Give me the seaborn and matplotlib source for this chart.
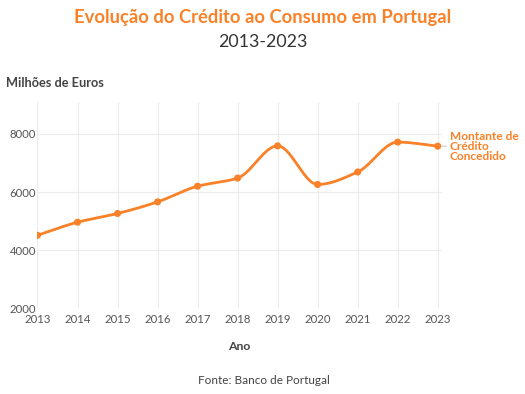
import numpy as np
import pandas as pd
import matplotlib
matplotlib.use("Agg")
import matplotlib.pyplot as plt
import seaborn as sns

# Data
anos = [2013, 2014, 2015, 2016, 2017, 2018, 2019, 2020, 2021, 2022, 2023]
montante = [4510, 4960, 5260, 5660, 6200, 6480, 7590, 6260, 6690, 7720, 7580]
y_ticks = [2000, 4000, 6000, 8000]
serie_label = "Montante de\nCrédito\nConcedido"

ORANGE = "#F98128"
GRID = "#ECECEC"


def monotone_curve(x, y, n=40):
    # Fritsch-Carlson monotone cubic, only used to draw the smooth line
    x = np.asarray(x, float)
    y = np.asarray(y, float)
    h = np.diff(x)
    d = np.diff(y) / h
    m = np.zeros_like(y)
    m[0], m[-1] = d[0], d[-1]
    for i in range(1, len(y) - 1):
        if d[i - 1] * d[i] > 0:
            w1 = 2 * h[i] + h[i - 1]
            w2 = h[i] + 2 * h[i - 1]
            m[i] = (w1 + w2) / (w1 / d[i - 1] + w2 / d[i])
    xs, ys = [], []
    for i in range(len(x) - 1):
        t = np.linspace(0, 1, n, endpoint=(i == len(x) - 2))
        h00 = 2 * t**3 - 3 * t**2 + 1
        h10 = t**3 - 2 * t**2 + t
        h01 = -2 * t**3 + 3 * t**2
        h11 = t**3 - t**2
        xs.append(x[i] + t * h[i])
        ys.append(h00 * y[i] + h10 * h[i] * m[i] + h01 * y[i + 1] + h11 * h[i] * m[i + 1])
    return np.concatenate(xs), np.concatenate(ys)


df = pd.DataFrame({"Ano": anos, "Montante": montante})
xs, ys = monotone_curve(df["Ano"], df["Montante"])
curve = pd.DataFrame({"Ano": xs, "Montante": ys})

sns.set_theme(style="white")
plt.rcParams["font.family"] = ["Lato", "DejaVu Sans"]

fig = plt.figure(figsize=(5.25, 3.94), dpi=100)
ax = fig.add_axes([0.0714, 0.218, 0.770, 0.523])

sns.lineplot(data=curve, x="Ano", y="Montante", color=ORANGE, linewidth=2.0, ax=ax, sort=False)
sns.scatterplot(data=df, x="Ano", y="Montante", color=ORANGE, s=26, edgecolor="none", ax=ax, zorder=3)

ax.set_xlim(2013, 2023.1)
ax.set_ylim(2000, 9100)
ax.set_xticks(anos)
ax.set_yticks(y_ticks)
ax.tick_params(axis="both", labelsize=8.2, colors="#555555", length=3, width=0.6, pad=1)
ax.tick_params(axis="y", length=0)
ax.tick_params(axis="x", color=GRID)
ax.grid(True, color=GRID, linewidth=0.8)
for side in ["top", "right", "left", "bottom"]:
    ax.spines[side].set_visible(False)
ax.set_xlabel("Ano", fontsize=8.8, fontweight="bold", color="#444444", labelpad=12)
ax.set_ylabel("")

# line label at the end of the series
ax.annotate(serie_label, xy=(anos[-1], montante[-1]), xytext=(8.5, 0),
            textcoords="offset points", va="center", ha="left",
            fontsize=8.6, fontweight="bold", color=ORANGE, linespacing=0.9,
            annotation_clip=False)
ax.annotate("", xy=(anos[-1], montante[-1]), xytext=(6.5, 0), textcoords="offset points",
            arrowprops=dict(arrowstyle="-", color="#BBBBBB", lw=0.6, shrinkA=0, shrinkB=3),
            annotation_clip=False)

fig.text(0.5, 0.955, "Evolução do Crédito ao Consumo em Portugal", ha="center", va="center",
         fontsize=13.2, fontweight="bold", color=ORANGE)
fig.text(0.5, 0.893, "2013-2023", ha="center", va="center", fontsize=12.8, color="#333333")
fig.text(0.011, 0.79, "Milhões de Euros", ha="left", va="center", fontsize=9.2,
         fontweight="bold", color="#444444")
fig.text(0.503, 0.033, "Fonte: Banco de Portugal", ha="center", va="center",
         fontsize=8.5, color="#444444")

fig.savefig("out.png", dpi=100)
